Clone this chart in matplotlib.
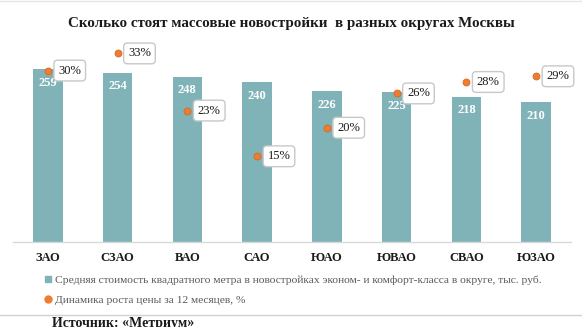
import matplotlib
matplotlib.use("Agg")
import matplotlib.pyplot as plt
from matplotlib.lines import Line2D

plt.rcParams["font.family"] = ["Liberation Serif", "DejaVu Serif"]

TITLE = "Сколько стоят массовые новостройки  в разных округах Москвы"
DISTRICTS = ["ЗАО", "СЗАО", "ВАО", "САО", "ЮАО", "ЮВАО", "СВАО", "ЮЗАО"]
PRICE = [259, 254, 248, 240, 226, 225, 218, 210]
GROWTH = [30, 33, 23, 15, 20, 26, 28, 29]
PRICE_LABEL = ("Средняя стоимость квадратного метра в новостройках "
               "эконом- и комфорт-класса в округе, тыс. руб.")
GROWTH_LABEL = "Динамика роста цены за 12 месяцев, %"
SOURCE = "Источник: «Метриум»"

BAR_COLOR = "#80b3b7"
DOT_COLOR = "#ed7d31"
INK = "#1a1a1a"
LEGEND_INK = "#595959"
RULE = "#d0d0d0"

fig = plt.figure(figsize=(5.82, 3.27), dpi=100)
fig.set_facecolor("white")
ax = fig.add_axes([13 / 582, 1 - 242 / 327, 558 / 582, 200 / 327])
ax2 = ax.twinx()

x = list(range(len(DISTRICTS)))
bars = ax.bar(x, PRICE, width=0.42, color=BAR_COLOR, zorder=2)
ax.set_ylim(0, 300)
ax.set_xlim(-0.5, len(DISTRICTS) - 0.5)

for xi, v in zip(x, PRICE):
    ax.annotate(str(v), (xi, v), xytext=(0, -5.5), textcoords="offset points",
                ha="center", va="top", color="white", fontsize=9, weight="bold")

dots, = ax2.plot(x, GROWTH, linestyle="none", marker="o", markersize=5,
                 color=DOT_COLOR, markeredgecolor="#d9691f", markeredgewidth=0.6, zorder=3)
ax2.set_ylim(0, 35)
for xi, v in zip(x, GROWTH):
    ax2.annotate(f"{v}%", (xi, v), xytext=(7.5, 0), textcoords="offset points",
                 ha="left", va="center", fontsize=9, color=INK,
                 bbox=dict(boxstyle="round,pad=0.35,rounding_size=0.3",
                           fc="white", ec="#c8c8c8", lw=1.0))

for a in (ax, ax2):
    for s in ("top", "right", "left"):
        a.spines[s].set_visible(False)
    a.set_yticks([])
ax2.spines["bottom"].set_visible(False)
ax.spines["bottom"].set_color("#d9d9d9")
ax.spines["bottom"].set_linewidth(1.0)
ax.set_xticks(x)
ax.set_xticklabels(DISTRICTS, fontsize=9, weight="bold", color=INK)
ax.tick_params(axis="x", length=0, pad=7)

fig.text(0.5, 1 - 24 / 327, TITLE, ha="center", va="center",
         fontsize=10.8, weight="bold", color=INK)

handles = [
    Line2D([], [], linestyle="none", marker="s", markersize=4.5, color=BAR_COLOR),
    Line2D([], [], linestyle="none", marker="o", markersize=5, color=DOT_COLOR),
]
leg = fig.legend(handles, [PRICE_LABEL, GROWTH_LABEL], loc="upper left",
                 bbox_to_anchor=(45 / 582, 1 - 275 / 327), frameon=False,
                 fontsize=8.25, handlelength=0.6, handletextpad=0.3, labelspacing=0.85,
                 borderpad=0, borderaxespad=0)
for t in leg.get_texts():
    t.set_color(LEGEND_INK)

fig.add_artist(Line2D([0, 1], [1 - 315 / 327] * 2, color=RULE, lw=1.0))
fig.add_artist(Line2D([0, 1], [1 - 1 / 327] * 2, color="#e6e6e6", lw=1.0))
fig.text(52 / 582, 1 - 317 / 327, SOURCE, ha="left", va="top",
         fontsize=10, weight="bold", color=INK)

fig.savefig("out.png", dpi=100, facecolor="white")
